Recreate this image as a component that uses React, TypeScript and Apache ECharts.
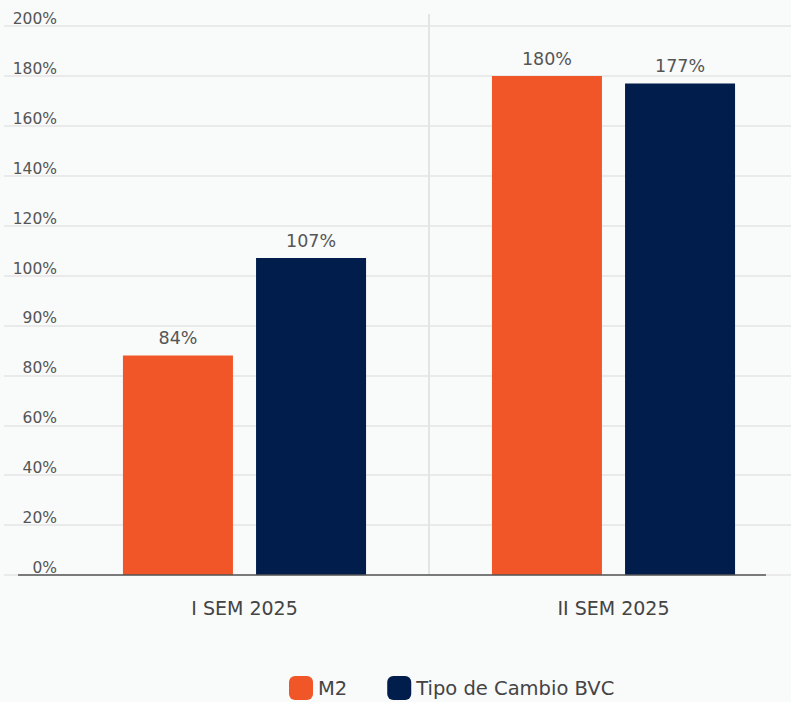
import React, { useEffect, useRef } from "react";
import * as echarts from "echarts";

const categories = ["I SEM 2025", "II SEM 2025"];
const seriesNames = ["M2", "Tipo de Cambio BVC"];
const m2Values = [84, 180];
const bvcValues = [107, 177];
const tickValues = [0, 20, 40, 60, 80, 90, 100, 120, 140, 160, 180, 200];
const tickLabels = ["0%", "20%", "40%", "60%", "80%", "90%", "100%", "120%", "140%", "160%", "180%", "200%"];

const ORANGE = "#F05627";
const NAVY = "#011D4B";
const FONT = "'DejaVu Sans', sans-serif";

// map a percentage onto the axis, whose ticks are evenly spaced labels
function toAxis(v: number): number {
  for (let i = 1; i < tickValues.length; i++) {
    if (v <= tickValues[i]) {
      const a = tickValues[i - 1];
      const b = tickValues[i];
      return i - 1 + (v - a) / (b - a);
    }
  }
  return tickValues.length - 1;
}

export default function App() {
  const ref = useRef<HTMLDivElement>(null);
  useEffect(() => {
    if (!ref.current) return;
    const chart = echarts.init(ref.current, null, { renderer: "svg" });
    const maxIdx = tickLabels.length - 1;
    const top = 26;
    const bottom = 127;
    const barLabel = (vals: number[]) => ({
      show: true,
      position: "top",
      distance: 8,
      color: "#555",
      fontSize: 17.5,
      fontFamily: FONT,
      formatter: (p: any) => vals[p.dataIndex] + "%",
    });
    chart.setOption({
      animation: false,
      backgroundColor: "#f9fafa",
      textStyle: { fontFamily: FONT },
      grid: [
        { left: 4, width: 787, top, bottom },
        { left: 60, width: 738, top, bottom },
      ],
      xAxis: [
        { gridIndex: 0, type: "value", show: false, min: 0, max: 1 },
        {
          gridIndex: 1,
          type: "category",
          data: categories,
          axisLine: { show: false },
          axisTick: { show: false },
          splitLine: { show: false },
          axisLabel: { color: "#444", fontSize: 19, margin: 23, fontFamily: FONT },
        },
      ],
      yAxis: [
        {
          gridIndex: 0,
          type: "value",
          min: 0,
          max: maxIdx,
          interval: 1,
          axisLine: { show: false },
          axisTick: { show: false },
          splitLine: { show: true, lineStyle: { color: "#e4e4e4", width: 1.5 } },
          axisLabel: {
            inside: true,
            margin: 53,
            align: "right",
            verticalAlign: "bottom",
            lineHeight: 14,
            color: "#555",
            fontSize: 15.5,
            fontFamily: FONT,
            formatter: (v: number) => tickLabels[Math.round(v)] ?? "",
          },
        },
        { gridIndex: 1, type: "value", min: 0, max: maxIdx, show: false, splitLine: { show: false } },
      ],
      legend: {
        left: 289,
        top: 676,
        padding: 0,
        itemWidth: 24,
        itemHeight: 24,
        itemGap: 40,
        icon: "roundRect",
        textStyle: { color: "#444", fontSize: 19.5, fontFamily: FONT },
        data: seriesNames,
      },
      graphic: [
        {
          type: "line",
          shape: { x1: 429, y1: 14, x2: 429, y2: 575 },
          style: { stroke: "#e4e4e4", lineWidth: 2 },
          z: 0,
        },
        {
          type: "line",
          shape: { x1: 18, y1: 575, x2: 766, y2: 575 },
          style: { stroke: "#555", lineWidth: 1.5 },
          z: 10,
        },
      ],
      series: [
        {
          name: seriesNames[0],
          type: "bar",
          xAxisIndex: 1,
          yAxisIndex: 1,
          barWidth: 110,
          barGap: "21%",
          itemStyle: { color: ORANGE },
          data: m2Values.map(toAxis),
          label: barLabel(m2Values),
        },
        {
          name: seriesNames[1],
          type: "bar",
          xAxisIndex: 1,
          yAxisIndex: 1,
          barWidth: 110,
          barGap: "21%",
          itemStyle: { color: NAVY },
          data: bvcValues.map(toAxis),
          label: barLabel(bvcValues),
        },
      ],
    });
    return () => chart.dispose();
  }, []);
  return (
    <div style={{ position: "fixed", left: 0, top: 0, width: 791, height: 702, overflow: "hidden" }}>
      <div ref={ref} style={{ width: 800, height: 702 }} />
    </div>
  );
}
